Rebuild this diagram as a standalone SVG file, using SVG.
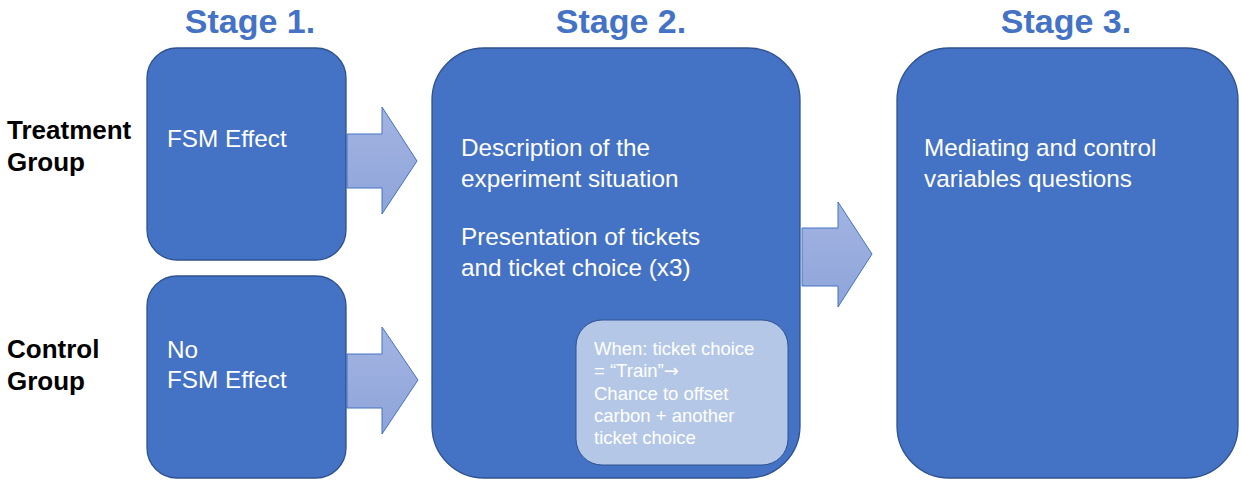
<svg xmlns="http://www.w3.org/2000/svg" width="1241" height="483" viewBox="0 0 1241 483">
<style>
.box{fill:#4472c4;stroke:#2f528f;stroke-width:1.3}
.inner{fill:#b4c7e7;stroke:#2f528f;stroke-width:1}
.arr{fill:url(#ag);stroke:#4472c4;stroke-width:1}
.stage{font-family:"Liberation Sans",Arial,sans-serif;font-weight:bold;font-size:34px;fill:#4472c4;text-anchor:middle}
.grp{font-family:"Liberation Sans",Arial,sans-serif;font-weight:bold;font-size:26px;fill:#000}
.t{font-family:"Liberation Sans",Arial,sans-serif;font-size:24.3px;fill:#fff}
.s{font-family:"Liberation Sans",Arial,sans-serif;font-size:18.5px;fill:#fff}
.ar{font-family:"DejaVu Sans",sans-serif;font-size:18px}
</style>
<defs>
<linearGradient id="ag" x1="0" y1="0" x2="0" y2="1">
<stop offset="0" stop-color="#a3b4e2"/>
<stop offset="1" stop-color="#8ea4d9"/>
</linearGradient>
</defs>
<g id="headers">
<text class="stage" x="250" y="33">Stage 1.</text>
<text class="stage" x="621" y="33">Stage 2.</text>
<text class="stage" x="1066" y="33">Stage 3.</text>
</g>
<g id="group-labels">
<text class="grp" x="7" y="139">Treatment</text>
<text class="grp" x="7" y="171">Group</text>
<text class="grp" x="7" y="358">Control</text>
<text class="grp" x="7" y="390">Group</text>
</g>
<g id="connectors">
<path class="arr" d="M347 134 H382 V107 L417 161 L382 214 V188 H347 Z"/>
<path class="arr" d="M347 354 H382 V327 L418 380 L382 434 V408 H347 Z"/>
<path class="arr" d="M802 228 H838 V202 L872 254 L838 307 V286 H802 Z"/>
</g>
<g id="treatment">
<rect class="box" x="147" y="48" width="199" height="212" rx="30"/>
<text class="t" x="167" y="147">FSM Effect</text>
</g>
<g id="control">
<rect class="box" x="147" y="276" width="199" height="202" rx="30"/>
<text class="t" x="167" y="358">No</text>
<text class="t" x="167" y="388">FSM Effect</text>
</g>
<g id="stage2">
<rect class="box" x="432" y="48" width="368" height="430" rx="52"/>
<text class="t" x="461" y="156">Description of the</text>
<text class="t" x="461" y="187">experiment situation</text>
<text class="t" x="461" y="245">Presentation of tickets</text>
<text class="t" x="461" y="276">and ticket choice (x3)</text>
</g>
<g id="stage2-note">
<rect class="inner" x="576" y="320" width="212" height="145" rx="26"/>
<text class="s" x="594" y="355">When: ticket choice</text>
<text class="s" x="594" y="377">= “Train”<tspan class="ar">→</tspan></text>
<text class="s" x="594" y="400">Chance to offset</text>
<text class="s" x="594" y="422">carbon + another</text>
<text class="s" x="594" y="444">ticket choice</text>
</g>
<g id="stage3">
<rect class="box" x="897" y="48" width="341" height="430" rx="52"/>
<text class="t" x="924" y="156">Mediating and control</text>
<text class="t" x="924" y="187">variables questions</text>
</g>
</svg>
